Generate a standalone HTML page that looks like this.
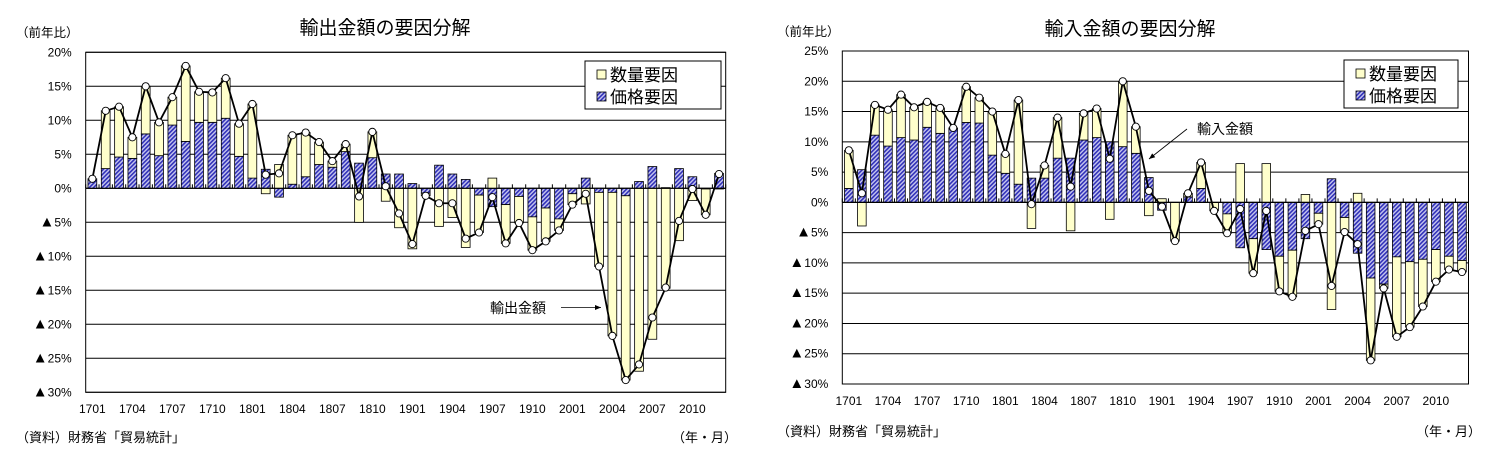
<!DOCTYPE html>
<html><head><meta charset="utf-8">
<style>
html,body{margin:0;padding:0;background:#fff;}
svg{display:block;font-family:"Liberation Sans","Noto Sans CJK JP",sans-serif;}
</style></head>
<body>
<svg id="c" width="1497" height="470" viewBox="0 0 1497 470">
<defs>
<pattern id="hatch" patternUnits="userSpaceOnUse" width="3" height="3" patternTransform="rotate(45)">
<rect width="3" height="3" fill="#c8c8f0"/>
<rect width="1.6" height="3" fill="#3030b8"/>
</pattern>
</defs>
</svg>
<script>
// ---- data ----
const categories = [];
['17','18','19','20'].forEach(y=>{for(let m=1;m<=12;m++)categories.push(y+String(m).padStart(2,'0'));});
const tickLabels = ['1701','1704','1707','1710','1801','1804','1807','1810','1901','1904','1907','1910','2001','2004','2007','2010'];
const exportPrice = [1.4,2.9,4.6,4.4,8.0,4.8,9.3,6.9,9.7,9.7,10.3,4.7,1.5,2.8,-1.3,0.6,1.7,3.5,3.1,5.4,3.7,4.5,2.1,2.1,0.7,-0.7,3.4,2.1,1.3,-1.0,-2.7,-2.4,-1.2,-4.2,-2.9,-4.5,-0.8,1.5,-0.6,-0.6,-1.1,1.0,3.2,0.1,2.9,1.7,-0.1,2.2];
const exportQty = [0,8.5,7.4,3.1,7.0,4.9,4.1,11.1,4.5,4.4,5.9,4.8,10.9,-0.8,3.5,7.2,6.5,3.3,0.9,1.1,-5.0,3.8,-1.9,-5.8,-8.9,-0.4,-5.6,-4.3,-8.7,-5.5,1.5,-5.7,-3.9,-4.9,-4.9,-1.7,-1.6,-2.3,-10.9,-21.1,-27.1,-26.9,-22.2,-14.7,-7.7,-1.8,-3.8,-0.1];
const exportTotal = [1.4,11.4,12.0,7.5,15.0,9.7,13.4,18.0,14.2,14.1,16.2,9.5,12.4,2.0,2.2,7.8,8.2,6.8,4.0,6.5,-1.2,8.3,0.3,-3.7,-8.2,-1.1,-2.2,-2.2,-7.4,-6.5,-1.3,-8.1,-5.1,-9.1,-7.8,-6.2,-2.4,-0.8,-11.5,-21.7,-28.2,-25.9,-19.0,-14.6,-4.8,-0.1,-3.9,2.1];
const importPrice = [2.3,5.4,11.1,9.3,10.7,10.3,12.4,11.4,12.2,13.2,13.1,7.8,4.8,3.0,4.0,4.0,7.3,7.3,10.3,10.7,10.0,9.2,8.1,4.1,-1.3,0,0.9,2.3,0,-1.9,-7.5,-6.0,-7.8,-8.9,-7.9,-6.0,-1.8,3.9,-2.5,-8.4,-12.5,-13.5,-9.0,-9.8,-9.4,-7.8,-8.9,-9.6];
const importQty = [6.3,-3.9,5.0,6.0,7.1,5.4,4.2,4.2,0.1,5.9,4.2,7.2,3.2,13.9,-4.3,2.1,6.7,-4.7,4.4,4.8,-2.8,10.8,4.4,-2.2,0.6,-6.4,0.6,4.3,-1.4,-3.2,6.4,-5.7,6.4,-5.8,-7.7,1.3,-1.8,-17.7,-2.4,1.5,-13.6,-0.7,-13.2,-10.8,-7.8,-5.3,-2.2,-1.9];
const importTotal = [8.6,1.5,16.1,15.3,17.8,15.7,16.6,15.6,12.3,19.1,17.3,15.0,8.0,16.9,-0.3,6.1,14.0,2.6,14.7,15.5,7.2,20.0,12.5,1.9,-0.7,-6.4,1.5,6.6,-1.4,-5.1,-1.1,-11.7,-1.4,-14.7,-15.6,-4.7,-3.6,-13.8,-4.9,-6.9,-26.1,-14.2,-22.2,-20.6,-17.2,-13.1,-11.1,-11.5];
const exportTicks = [20,15,10,5,0,-5,-10,-15,-20,-25,-30];
const importTicks = [25,20,15,10,5,0,-5,-10,-15,-20,-25,-30];
const legendLabels = ['数量要因','価格要因'];

const svg = document.getElementById('c');
const NS = 'http://www.w3.org/2000/svg';
function mk(tag, attrs, parent){
  const e = document.createElementNS(NS, tag);
  for (const k in attrs) e.setAttribute(k, attrs[k]);
  (parent||svg).appendChild(e);
  return e;
}

function drawChart(o){
  const g = mk('g', {});
  
  
  const n = categories.length;
  const bw = (o.x1-o.x0)/n;
  const maxV = o.ticks[0], minV = o.ticks[o.ticks.length-1];
  const y = v => o.y0 + (maxV - v)/(maxV-minV)*(o.y1-o.y0);
  const xc = i => o.x0 + (i+0.5)*bw;
  const t = mk('text', {x:o.titleX, y:o.titleY, 'font-size':19, 'text-anchor':'middle', fill:'#000'}, g);
  t.textContent = o.title;
  
  
  const u = mk('text', {x:o.unitX, y:o.unitY, 'font-size':12.5, fill:'#000'}, g);
  u.textContent = '（前年比）';
  
  
  o.ticks.forEach(v=>{
    const l = mk('line', {x1:o.x0, x2:o.x1, y1:y(v), y2:y(v), stroke:'#000', 'stroke-width':1}, g);
    
    
    const tx = mk('text', {x:o.x0-14, y:y(v)+4, 'font-size':12, 'text-anchor':'end', fill:'#000'}, g);
    
    
    if (v<0){
      const tri = mk('tspan', {'font-size':15}, tx);
      tri.textContent = '▲';
      const num = mk('tspan', {}, tx);
      num.textContent = (-v)+'%';
    } else {
      tx.textContent = v+'%';
    }
  });
  const fr = mk('rect', {x:o.x0, y:o.y0, width:o.x1-o.x0, height:o.y1-o.y0, fill:'none', stroke:'#000', 'stroke-width':1}, g);
  
  
  const w = bw*0.66;
  for (let i=0;i<n;i++){
    const p = o.price[i], q = o.qty[i];
    let pos = 0, neg = 0;
    const segs = [[p,'url(#hatch)','price-bar'],[q,'#ffffcc','quantity-bar']];
    segs.forEach(([v,fill,name])=>{
      if (v===0) return;
      let a,b;
      if (v>0){ a=pos; b=pos+v; pos=b; } else { a=neg; b=neg+v; neg=b; }
      const r = mk('rect', {x:xc(i)-w/2, y:Math.min(y(a),y(b)), width:w, height:Math.abs(y(a)-y(b)), fill:fill, stroke:'#000', 'stroke-width':0.8}, g);
      
      
    });
  }
  for (let i=0;i<=n;i++){
    const tk = mk('line', {x1:o.x0+i*bw, x2:o.x0+i*bw, y1:y(0), y2:y(0)-4, stroke:'#000', 'stroke-width':1}, g);
    
    
  }
  const z = mk('line', {x1:o.x0, x2:o.x1, y1:y(0), y2:y(0), stroke:'#000', 'stroke-width':1.2}, g);
  
  
  const pts = o.total.map((v,i)=>xc(i)+','+y(v)).join(' ');
  const pl = mk('polyline', {points:pts, fill:'none', stroke:'#000', 'stroke-width':1.8}, g);
  
  
  o.total.forEach((v,i)=>{
    const c = mk('circle', {cx:xc(i), cy:y(v), r:3.6, fill:'#fff', stroke:'#000', 'stroke-width':0.9}, g);
    
    
  });
  tickLabels.forEach(lab=>{
    const i = categories.indexOf(lab);
    const tx = mk('text', {x:xc(i), y:o.xLabelY, 'font-size':12, 'text-anchor':'middle', fill:'#000'}, g);
    tx.textContent = lab;
    
    
  });
  const lg = mk('g', {}, g);
  
  
  const lb = mk('rect', {x:o.leg[0], y:o.leg[1], width:o.leg[2], height:o.leg[3], fill:'#fff', stroke:'#000', 'stroke-width':1}, lg);
  
  
  legendLabels.forEach((lab,k)=>{
    const yy = o.leg[1] + 14 + k*22;
    const sw = mk('rect', {x:o.leg[0]+12, y:yy-5, width:9, height:9, fill:k==0?'#ffffcc':'url(#hatch)', stroke:'#000', 'stroke-width':0.8}, lg);
    
    
    const tx = mk('text', {x:o.leg[0]+25, y:yy+6, 'font-size':17, fill:'#000'}, lg);
    tx.textContent = lab;
    
    
  });
  const at = mk('text', {x:o.ann.tx, y:o.ann.ty, 'font-size':14, fill:'#000'}, g);
  at.textContent = o.ann.text;
  
  
  const al = mk('line', {x1:o.ann.x1, y1:o.ann.y1, x2:o.ann.x2, y2:o.ann.y2, stroke:'#000', 'stroke-width':0.8}, g);
  
  
  const ang = Math.atan2(o.ann.y2-o.ann.y1, o.ann.x2-o.ann.x1);
  const hx = o.ann.x2, hy = o.ann.y2;
  const ah = mk('polygon', {points:[hx+','+hy,(hx-6*Math.cos(ang)+2.5*Math.sin(ang))+','+(hy-6*Math.sin(ang)-2.5*Math.cos(ang)),(hx-6*Math.cos(ang)-2.5*Math.sin(ang))+','+(hy-6*Math.sin(ang)+2.5*Math.cos(ang))].join(' '), fill:'#000'}, g);
  
  
  const s = mk('text', {x:o.srcX, y:o.srcY, 'font-size':13, fill:'#000'}, g);
  s.textContent = '（資料）財務省「貿易統計」';
  
  
  const ym = mk('text', {x:o.ymX, y:o.srcY, 'font-size':13, fill:'#000'}, g);
  ym.textContent = '（年・月）';
  
  
}

drawChart({name:'export-chart', title:'輸出金額の要因分解', titleX:385, titleY:34, unitX:16, unitY:37,
  x0:85.7, x1:725.7, y0:52.3, y1:392.3, ticks:exportTicks,
  price:exportPrice, qty:exportQty, total:exportTotal, xLabelY:413,
  leg:[585,61,136,48],
  ann:{text:'輸出金額', tx:490, ty:313, x1:561, y1:307.5, x2:601, y2:307.5},
  srcX:16, srcY:442, ymX:672});
drawChart({name:'import-chart', title:'輸入金額の要因分解', titleX:1130, titleY:35, unitX:777, unitY:36,
  x0:842.3, x1:1468.5, y0:51, y1:384, ticks:importTicks,
  price:importPrice, qty:importQty, total:importTotal, xLabelY:405,
  leg:[1344,60,114,48],
  ann:{text:'輸入金額', tx:1197, ty:134, x1:1187, y1:129, x2:1149, y2:159},
  srcX:777, srcY:436, ymX:1416});
</script>
</body></html>
